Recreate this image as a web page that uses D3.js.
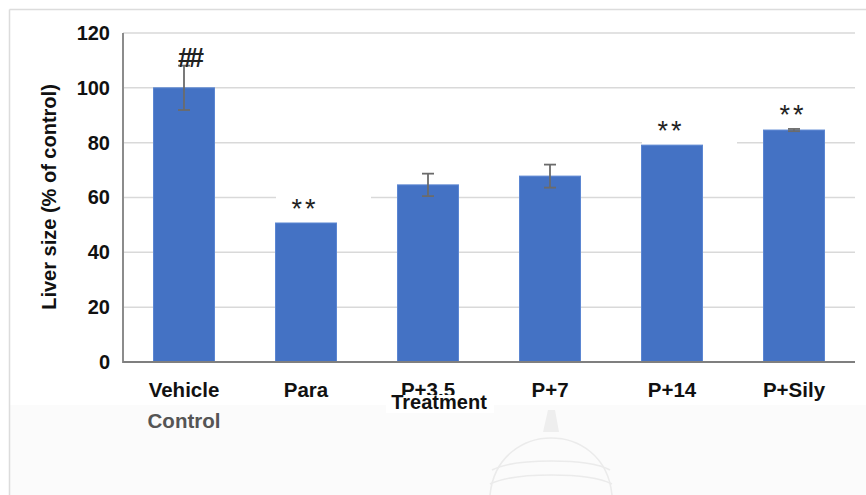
<!DOCTYPE html>
<html>
<head>
<meta charset="utf-8">
<script src="https://cdn.jsdelivr.net/npm/d3@7/dist/d3.min.js"></script>
<style>
  html, body { margin: 0; padding: 0; background: #fff; }
  svg { display: block; }
  text { font-family: "Liberation Sans", Arial, sans-serif; }
</style>
</head>
<body>
<svg id="chart" width="866" height="495"></svg>
<script>
// Liver size by treatment group, expressed as % of vehicle control
const categories = ["Vehicle", "Para", "P+3.5", "P+7", "P+14", "P+Sily"];
const values     = [100, 50.7, 64.6, 67.8, 79.1, 84.6];
const errors     = [8.1, 0, 4.1, 4.2, 0, 0.4];
const marks      = ["##", "**", "", "", "**", "**"];
const yTicks     = [0, 20, 40, 60, 80, 100, 120];

const svg = d3.select("#chart");
const W = 866, H = 495;
const plot = { left: 123, right: 855, top: 33, bottom: 362 };

// light page tint under the chart and frame lines
svg.append("rect").attr("x", 10).attr("y", 405).attr("width", W - 10).attr("height", H - 405)
  .attr("fill", "#fbfbfb");
svg.append("line").attr("x1", 9.5).attr("x2", W).attr("y1", 9.5).attr("y2", 9.5)
  .attr("stroke", "#dcdcdc").attr("stroke-width", 1.5);
svg.append("line").attr("x1", 9.5).attr("x2", 9.5).attr("y1", 9.5).attr("y2", H)
  .attr("stroke", "#dcdcdc").attr("stroke-width", 1.5);

// faint seal drawn in the lower background
const seal = svg.append("g").attr("fill", "none").attr("stroke", "#ebebeb").attr("stroke-width", 1.6);
seal.append("path").attr("d", "M548,410 L555,410 L559,432 L543,432 Z").attr("fill", "#eeeeee").attr("stroke", "none");
seal.append("path").attr("d", "M490,495 C494,455 525,438 551,438 C578,438 608,455 612,495");
seal.append("path").attr("d", "M492,470 C515,458 588,458 610,470");
seal.append("path").attr("d", "M490,484 C515,472 588,472 612,484");

const x = d3.scaleBand().domain(categories).range([plot.left, plot.right])
  .paddingInner(0.5).paddingOuter(0.25);
const y = d3.scaleLinear().domain([0, 120]).range([plot.bottom, plot.top]);

// horizontal gridlines
svg.append("g").selectAll("line").data(yTicks.filter(d => d > 0)).join("line")
  .attr("x1", plot.left).attr("x2", plot.right)
  .attr("y1", d => y(d)).attr("y2", d => y(d))
  .attr("stroke", "#d9d9d9").attr("stroke-width", 1.5);

// white label boxes for significance marks (interrupt the gridlines)
const markPos = categories.map((c, i) => {
  const cx = x(c) + x.bandwidth() / 2;
  const top = y(values[i] + errors[i]);
  const isHash = marks[i] === "##";
  return { cx, isHash, ty: isHash ? top + 1 : top - 5 };
});
svg.append("g").selectAll("rect").data(categories.filter((c, i) => marks[i])).join("rect")
  .attr("x", c => markPos[categories.indexOf(c)].cx - 30)
  .attr("y", c => markPos[categories.indexOf(c)].ty - 30)
  .attr("width", 95).attr("height", 38).attr("fill", "#fff");

// y tick labels
const yAxis = d3.axisLeft(y).tickValues(yTicks).tickSize(0).tickPadding(13);
const gy = svg.append("g").attr("transform", `translate(${plot.left},0)`).call(yAxis);
gy.select(".domain").remove();
gy.selectAll("text").attr("font-size", 20).attr("font-weight", "bold").attr("fill", "#111")
  .attr("font-family", "'Liberation Sans', Arial, sans-serif");

// bars
svg.append("g").selectAll("rect").data(categories).join("rect")
  .attr("x", d => x(d)).attr("width", x.bandwidth())
  .attr("y", (d, i) => y(values[i]))
  .attr("height", (d, i) => y(0) - y(values[i]))
  .attr("fill", "#4472c4").attr("stroke", "#5b86d2").attr("stroke-width", 1);

// error bars
const eg = svg.append("g").attr("stroke", "#6b6b6b").attr("stroke-width", 1.8);
categories.forEach((c, i) => {
  if (!errors[i]) return;
  const cx = x(c) + x.bandwidth() / 2;
  const y1 = y(values[i] + errors[i]), y2 = y(values[i] - errors[i]);
  eg.append("line").attr("x1", cx).attr("x2", cx).attr("y1", y1).attr("y2", y2);
  eg.append("line").attr("x1", cx - 6).attr("x2", cx + 6).attr("y1", y1).attr("y2", y1);
  eg.append("line").attr("x1", cx - 6).attr("x2", cx + 6).attr("y1", y2).attr("y2", y2);
});

// significance marks
const mg = svg.append("g");
categories.forEach((c, i) => {
  if (!marks[i]) return;
  const p = markPos[i];
  mg.append("text").attr("x", p.isHash ? p.cx + 5 : p.cx - 1).attr("y", p.ty)
    .attr("text-anchor", "middle")
    .attr("font-family", "'DejaVu Sans', sans-serif")
    .attr("font-size", 27)
    .attr("font-weight", p.isHash ? "bold" : "normal")
    .attr("letter-spacing", p.isHash ? -4 : 3)
    .attr("fill", "#222").text(marks[i]);
});

// axes lines
svg.append("line").attr("x1", plot.left).attr("x2", plot.left).attr("y1", plot.top).attr("y2", plot.bottom + 1)
  .attr("stroke", "#8c8c8c").attr("stroke-width", 2);
svg.append("line").attr("x1", plot.left).attr("x2", plot.right).attr("y1", plot.bottom).attr("y2", plot.bottom)
  .attr("stroke", "#7f7f7f").attr("stroke-width", 2);

// category labels
const xAxis = d3.axisBottom(x).tickSize(0).tickPadding(20);
const gx = svg.append("g").attr("transform", `translate(0,${plot.bottom})`).call(xAxis);
gx.select(".domain").remove();
gx.selectAll("text").attr("font-size", 20.5).attr("font-weight", "bold").attr("fill", "#111")
  .attr("font-family", "'Liberation Sans', Arial, sans-serif");

// second line under the first category
svg.append("text").attr("x", x(categories[0]) + x.bandwidth() / 2).attr("y", 428)
  .attr("text-anchor", "middle").attr("font-size", 20.5).attr("font-weight", "bold")
  .attr("fill", "#555").text("Control");

// x axis title (sits over the third label)
svg.append("rect").attr("x", 386).attr("y", 395).attr("width", 108).attr("height", 18).attr("fill", "#fff");
svg.append("text").attr("x", 439).attr("y", 409)
  .attr("text-anchor", "middle").attr("font-size", 20).attr("font-weight", "bold")
  .attr("fill", "#111").text("Treatment");

// y axis title
svg.append("text").attr("transform", "translate(56,197) rotate(-90)")
  .attr("text-anchor", "middle").attr("font-size", 20).attr("font-weight", "bold")
  .attr("fill", "#111").text("Liver size (% of control)");
</script>
</body>
</html>
